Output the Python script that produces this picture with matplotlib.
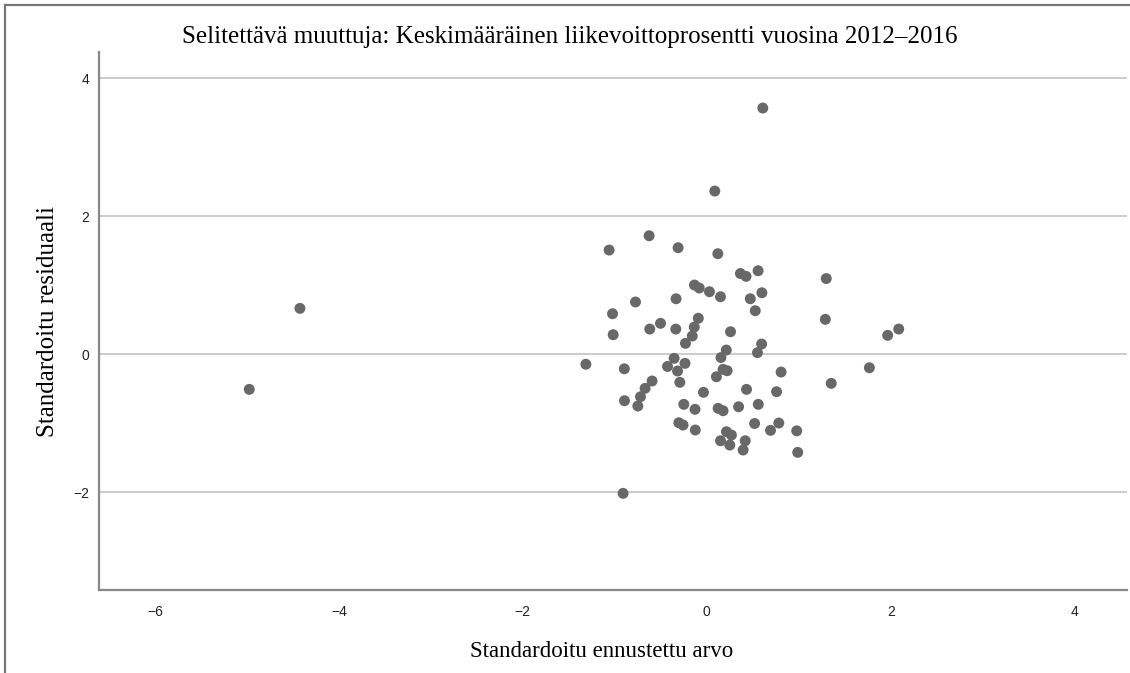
import matplotlib
matplotlib.use("Agg")
import matplotlib.pyplot as plt
from matplotlib.lines import Line2D

# Standardized predicted value (x) and standardized residual (y)
predicted = [0.609, 0.087, -1.062, -0.627, -0.312, 0.120, -0.134, -0.082, 0.029, 0.149,
             -0.775, -0.334, -1.025, -1.018, -0.620, -0.503, -0.337, -0.092, -0.136, -0.158,
             -0.232, -1.315, -0.897, -0.355, -0.237, -0.427, -0.318, -0.293, -0.595, -0.671,
             -0.721, -0.750, -0.895, -0.036, -0.250, -0.128, -0.304, -0.258, -0.125, 0.366,
             0.427, 0.558, 1.299, 0.473, 0.599, 0.527, 1.289, 1.967, 2.087, 0.258,
             0.596, 0.212, 0.154, 0.551, 0.177, 0.221, 0.808, 0.105, 1.353, 0.432,
             0.759, 1.768, 0.123, 0.177, 0.346, 0.560, 0.520, 0.783, 0.693, 0.978,
             0.214, 0.268, 0.149, 0.250, 0.418, 0.395, 0.989, -4.424, -4.975, -0.910]
residual = [3.565, 2.362, 1.507, 1.714, 1.541, 1.454, 1.000, 0.957, 0.903, 0.830,
            0.754, 0.801, 0.584, 0.280, 0.362, 0.445, 0.362, 0.519, 0.391, 0.261,
            0.155, -0.148, -0.214, -0.062, -0.135, -0.180, -0.246, -0.410, -0.391, -0.497,
            -0.619, -0.754, -0.677, -0.555, -0.729, -0.801, -0.996, -1.029, -1.101, 1.167,
            1.126, 1.207, 1.094, 0.801, 0.888, 0.628, 0.503, 0.271, 0.362, 0.323,
            0.145, 0.058, -0.051, 0.020, -0.222, -0.242, -0.261, -0.329, -0.425, -0.512,
            -0.546, -0.199, -0.787, -0.822, -0.764, -0.729, -1.007, -1.000, -1.106, -1.113,
            -1.126, -1.174, -1.257, -1.319, -1.257, -1.391, -1.425, 0.662, -0.512, -2.019]

x_ticks = [-6, -4, -2, 0, 2, 4]
y_ticks = [-2, 0, 2, 4]

fig = plt.figure(figsize=(11.3, 6.73), dpi=100)
ax = fig.add_axes([0.0876, 0.1233, 0.9094, 0.7994])

ax.scatter(predicted, residual, s=62, color='#686868', edgecolors='none', zorder=3)

ax.set_xlim(-6.609, 4.565)
ax.set_ylim(-3.42, 4.377)
ax.set_xticks(x_ticks)
ax.set_yticks(y_ticks)
ax.set_xticklabels(['\u22126', '\u22124', '\u22122', '0', '2', '4'])
ax.set_yticklabels(['\u22122', '0', '2', '4'])
ax.tick_params(length=0, labelsize=10, colors='#222222')
ax.tick_params(axis='x', pad=11)
ax.tick_params(axis='y', pad=7)
for lab in ax.get_xticklabels() + ax.get_yticklabels():
    lab.set_family('Liberation Sans')

ax.yaxis.grid(True, color='#cccccc', linewidth=1.4)
ax.set_axisbelow(True)
for side in ['top', 'right']:
    ax.spines[side].set_visible(False)
for side in ['left', 'bottom']:
    ax.spines[side].set_color('#888888')
    ax.spines[side].set_linewidth(1.6)

ax.set_xlabel('Standardoitu ennustettu arvo', family='Liberation Serif', fontsize=16.5)
ax.set_ylabel('Standardoitu residuaali', family='Liberation Serif', fontsize=18)
ax.xaxis.set_label_coords(0.489, -0.095)
ax.yaxis.set_label_coords(-0.039, 0.5)
fig.text(0.504, 0.945, 'Selitettävä muuttuja: Keskimääräinen liikevoittoprosentti vuosina 2012–2016',
         family='Liberation Serif', fontsize=18, ha='center', va='center')

# outer frame (left and top edges)
fig.add_artist(Line2D([0.0045, 0.0045], [0.0, 0.9925], color='#777777', linewidth=1.6))
fig.add_artist(Line2D([0.0045, 1.0], [0.9925, 0.9925], color='#777777', linewidth=1.6))

plt.savefig('out.png', dpi=100)
